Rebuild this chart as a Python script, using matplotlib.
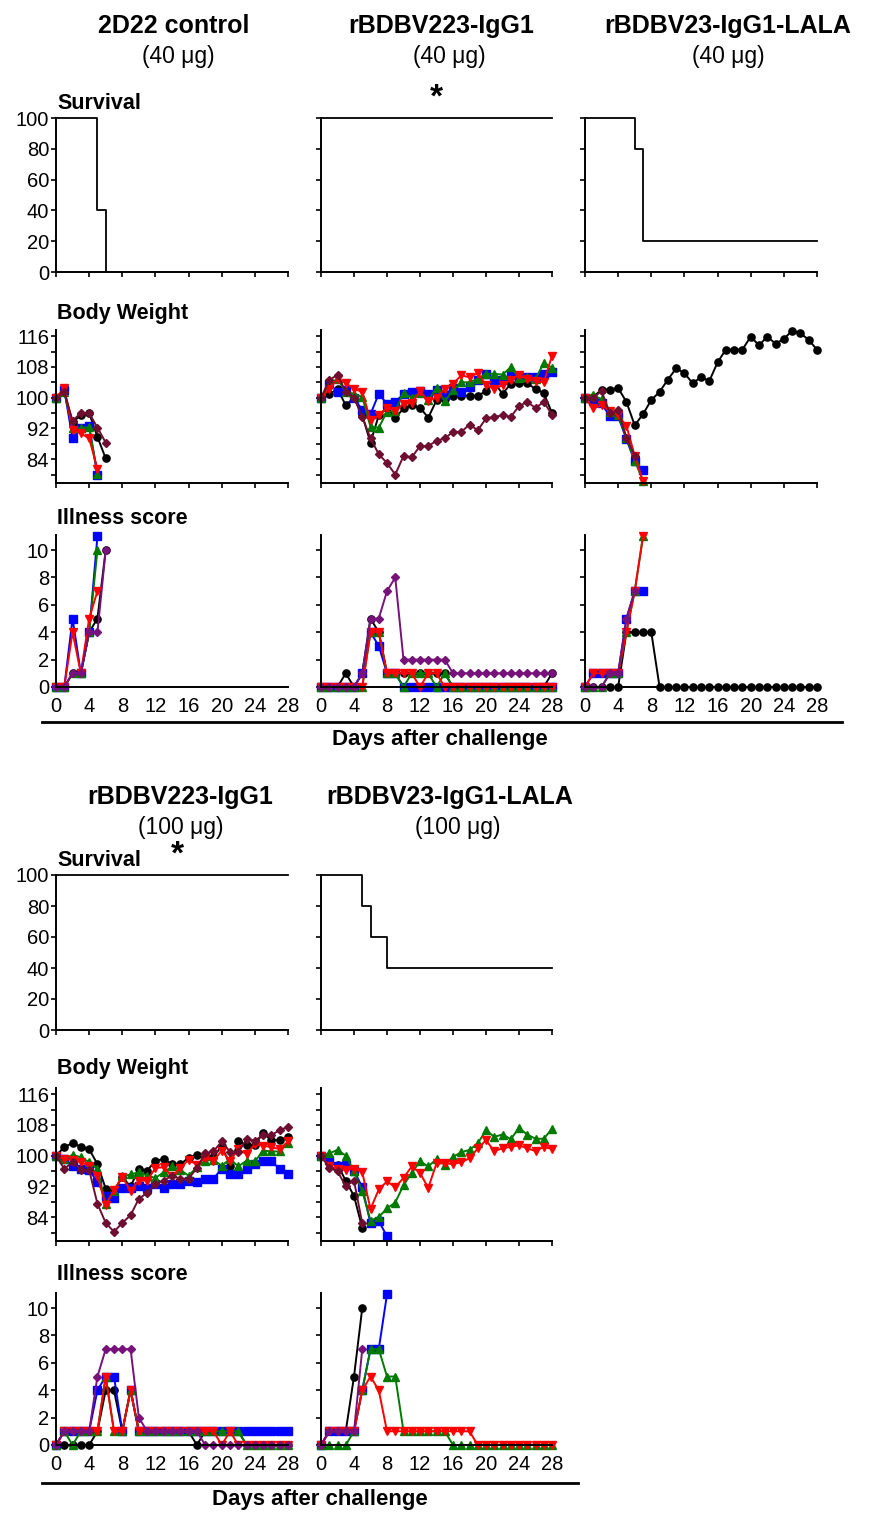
import matplotlib
matplotlib.use("Agg")
import matplotlib.pyplot as plt
from matplotlib.lines import Line2D
from matplotlib.ticker import MultipleLocator
import numpy as np

plt.rcParams['font.family'] = ['Liberation Sans', 'DejaVu Sans']

# ---------------- data ----------------
days = np.arange(29)

# survival: step times and percent
surv_ctrl40_t = [0, 5, 6]
surv_ctrl40_v = [100, 40, 0]
surv_223_40_t = [0, 28]
surv_223_40_v = [100, 100]
surv_lala40_t = [0, 6, 7, 28]
surv_lala40_v = [100, 80, 20, 20]
surv_223_100_t = [0, 28]
surv_223_100_v = [100, 100]
surv_lala100_t = [0, 5, 6, 8, 28]
surv_lala100_v = [100, 80, 60, 40, 40]

# body weight (% of day 0), one list per mouse
bw_ctrl40 = {
    "m1": [100, 101.5, 93.5, 95.5, 96, 89.8, 84.2],
    "m2": [100, 102, 89.4, 92, 92.6, 79.8],
    "m3": [100, 101.5, 92, 92, 92.4, 80.2],
    "m4": [100, 102.5, 91.7, 90.7, 89.4, 81.5],
    "m5": [100, 101.5, 94, 96, 96, 92.2, 88.3],
}
bw_223_40 = {
    "m1": [100, 100.9, 102.3, 98, 100, 95.4, 88.3, 95.4, 97.4, 94.7, 97.2, 98, 97.4, 94.8, 99.3,
           99.7, 100.5, 100.5, 100.5, 100.5, 101.7, 104, 101, 103.6, 103.8, 103.8, 102.2, 101.2, 96],
    "m2": [100, 103.6, 101.5, 101.9, 100, 96.7, 95.7, 101, 98.4, 98.9, 100.9, 101.5, 101.7, 100.9, 101.9,
           100.6, 102.6, 101.5, 102.9, 104.5, 106.2, 104.7, 104.5, 105.8, 105.3, 105.3, 105.5, 106.2, 106.6],
    "m3": [100, 103.6, 104.9, 101.5, 101, 100.2, 92.4, 92.2, 96.3, 96.6, 101.2, 100, 101.2, 99.3, 102.6,
           99.1, 101.9, 104, 104, 104.9, 106.2, 106.2, 106, 107.9, 105.2, 105.3, 104.9, 109, 107.8],
    "m4": [100, 102.3, 104.9, 103.8, 102.3, 101.5, 94.1, 95.4, 97.4, 96.6, 98.4, 98.6, 101.7, 99.1, 100,
           102.3, 103.6, 105.8, 105.3, 106.4, 103.2, 102.3, 103.2, 104.7, 105.8, 104.9, 104.3, 104, 110.9],
    "m5": [100, 104.5, 106, 101.5, 100, 95, 89.4, 85.3, 83, 80, 84.8, 84.5, 87.4, 87.4, 88.8,
           89.4, 91.1, 91.1, 93, 91.5, 94.6, 95, 95.4, 95, 97.8, 98.9, 97.3, 98.9, 95.6],
}
bw_lala40 = {
    "m1": [100, 100.2, 102.1, 102.1, 102.5, 98.9, 92.8, 95.7, 99.4, 101.5, 104.7, 107.6, 106.4, 103.7, 105.4,
           104.3, 109.2, 112.5, 112.5, 112.5, 115.9, 113.6, 115.9, 114, 115.3, 117.4, 116.8, 115, 112.5],
    "m2": [100, 99.1, 98.5, 95.1, 95.1, 89.2, 83.4, 81.2],
    "m3": [100, 100.6, 99.6, 96.3, 95.4, 89.6, 83.6, 78.4],
    "m4": [100, 97.2, 98, 96.6, 95.4, 92.7, 84.9, 78.2],
    "m5": [100, 100, 101.7, 95.9, 96.8, 89.6, 84.9],
}
bw_223_100 = {
    "m1": [100, 102.2, 103.3, 102.3, 101.7, 97.8, 91.4, 90.9, 94.4, 92, 96.6, 96.1, 98.7, 99.1, 97.8,
           97.8, 99.4, 100.3, 100, 99.6, 102.6, 97.4, 103.7, 102.8, 102.8, 105.9, 104, 104, 104.9],
    "m2": [100, 99.1, 97.4, 96.6, 96.3, 93.1, 89.4, 89.1, 91.6, 91.6, 92, 91.6, 92.5, 91.6, 92.7,
           92.5, 93.5, 93.1, 94, 94, 96.6, 95.1, 95.1, 96.6, 97.8, 98.5, 98.5, 96.6, 95.1],
    "m3": [100, 99.1, 100.2, 99.6, 98.3, 96.6, 87.3, 90.9, 94.6, 95.1, 95.7, 94.8, 94.2, 95.7, 97.2,
           96.3, 94.8, 97, 98.7, 98.9, 97.4, 99.1, 97.2, 98.7, 98.5, 101.3, 101.1, 101.1, 103.4],
    "m4": [100, 99.1, 98.9, 98.3, 97.4, 94.8, 87.1, 91.1, 94.4, 90.9, 93.5, 93.5, 96.8, 97, 94.6,
           96.8, 98.9, 97.7, 99.4, 98.7, 101.3, 98.7, 101.7, 100.4, 103, 102.6, 102.2, 101.7, 103.7],
    "m5": [100, 96.6, 98.3, 96.3, 96.3, 87.5, 82.5, 80.2, 82.5, 84.5, 88.8, 90.3, 92.7, 93.5, 94.8,
           94, 94, 96.8, 100.6, 101.1, 103.7, 101, 101, 104.3, 103.9, 105.4, 105.4, 106.6, 107.5],
}
bw_lala100 = {
    "m1": [100, 98, 97.6, 93.5, 89.5, 81.2],
    "m2": [100, 98.9, 97.2, 97.6, 96.1, 91.8, 82.4, 83, 79],
    "m3": [100, 100.6, 101.5, 100, 95.9, 90.8, 83.1, 84, 86.3, 87.8, 92.3, 95.5, 98.5, 97.2, 99.1,
           97.6, 99.7, 100.9, 101.5, 103.2, 106.6, 104.9, 105.5, 104.3, 107.2, 105.5, 104.4, 104.4, 107],
    "m4": [100, 97.2, 96.6, 96.3, 96.6, 95.7, 86.1, 91.2, 93.3, 91.8, 94.2, 97.2, 95.5, 91.6, 98,
           98, 97.8, 98.3, 99.3, 101.9, 104, 101.2, 101.9, 102.3, 102.7, 101.9, 101.2, 102.3, 101.7],
    "m5": [100, 96.9, 95.9, 92.1, 93.5, 82.4],
}

# illness score
ill_ctrl40 = {
    "m1": [0, 0, 1, 1, 4, 5, 10],
    "m2": [0, 0, 5, 1, 4, 11],
    "m3": [0, 0, 1, 1, 4, 10],
    "m4": [0, 0, 4, 1, 5, 7],
    "m5": [0, 0, 1, 1, 4, 4, 10],
}
ill_223_40 = {
    "m1": [0, 0, 0, 1, 0, 1, 5, 4, 1, 1, 1, 1, 1, 1, 1, 1, 0, 0, 0, 0, 0, 0, 0, 0, 0, 0, 0, 0, 1],
    "m2": [0, 0, 0, 0, 0, 1, 4, 3, 1, 1, 0, 0, 0, 0, 0, 0, 0, 0, 0, 0, 0, 0, 0, 0, 0, 0, 0, 0, 0],
    "m3": [0, 0, 0, 0, 0, 0, 4, 4, 1, 1, 0, 1, 1, 1, 0, 1, 0, 0, 0, 0, 0, 0, 0, 0, 0, 0, 0, 0, 0],
    "m4": [0, 0, 0, 0, 0, 0, 4, 4, 1, 1, 1, 1, 0, 1, 1, 0, 0, 0, 0, 0, 0, 0, 0, 0, 0, 0, 0, 0, 0],
    "m5": [0, 0, 0, 0, 0, 1, 5, 5, 7, 8, 2, 2, 2, 2, 2, 2, 1, 1, 1, 1, 1, 1, 1, 1, 1, 1, 1, 1, 1],
}
ill_lala40 = {
    "m1": [0, 0, 0, 0, 0, 4, 4, 4, 4, 0, 0, 0, 0, 0, 0, 0, 0, 0, 0, 0, 0, 0, 0, 0, 0, 0, 0, 0, 0],
    "m2": [0, 1, 1, 1, 1, 5, 7, 7],
    "m3": [0, 0, 0, 1, 1, 4, 7, 11],
    "m4": [0, 1, 1, 1, 1, 4, 7, 11],
    "m5": [0, 0, 0, 1, 1, 5, 7],
}
ill_223_100 = {
    "m1": [0, 0, 0, 0, 0, 1, 4, 4, 1, 4, 1, 1, 1, 1, 1, 1, 1, 0, 1, 1, 1, 1, 1, 0, 0, 0, 0, 0, 0],
    "m2": [0, 1, 1, 1, 1, 4, 5, 5, 1, 4, 1, 1, 1, 1, 1, 1, 1, 1, 1, 1, 1, 1, 1, 1, 1, 1, 1, 1, 1],
    "m3": [0, 1, 0, 1, 1, 1, 5, 1, 1, 4, 1, 1, 1, 1, 1, 1, 1, 1, 1, 1, 1, 1, 1, 0, 0, 0, 0, 0, 0],
    "m4": [0, 1, 1, 1, 1, 1, 5, 1, 1, 4, 1, 1, 1, 1, 1, 1, 1, 1, 1, 1, 0, 1, 0, 0, 0, 0, 0, 0, 0],
    "m5": [0, 1, 1, 1, 1, 5, 7, 7, 7, 7, 2, 1, 1, 1, 1, 1, 1, 1, 0, 0, 0, 0, 0, 0, 0, 0, 0, 0, 0],
}
ill_lala100 = {
    "m1": [0, 1, 1, 1, 5, 10],
    "m2": [0, 1, 1, 1, 1, 4, 7, 7, 11],
    "m3": [0, 0, 0, 0, 1, 4, 7, 7, 5, 5, 1, 1, 1, 1, 1, 1, 0, 0, 0, 0, 0, 0, 0, 0, 0, 0, 0, 0, 0],
    "m4": [0, 1, 1, 1, 1, 4, 5, 4, 1, 1, 1, 1, 1, 1, 1, 1, 1, 1, 1, 0, 0, 0, 0, 0, 0, 0, 0, 0, 0],
    "m5": [0, 1, 1, 1, 1, 7],
}

# mouse styles: colour, marker, size
styles = {
    "m1": ("black", "o", 5.2),
    "m2": ("#0000ff", "s", 5.2),
    "m3": ("#007a00", "^", 5.2),
    "m4": ("#ff0000", "v", 5.7),
    "m5": ("#6e0f30", "D", 3.6),
}
ill_purple = "#76127a"

W, H = 872, 1513
fig = plt.figure(figsize=(W / 100, H / 100), dpi=100)


def add_ax(x0, x1, y0, y1):
    return fig.add_axes([x0 / W, 1 - y1 / H, (x1 - x0) / W, (y1 - y0) / H])


def ftext(x, y, s, **kw):
    fig.text(x / W, 1 - y / H, s, **kw)


def style_ax(ax):
    for s in ("top", "right"):
        ax.spines[s].set_visible(False)
    for s in ("left", "bottom"):
        ax.spines[s].set_linewidth(1.4)
    ax.set_xlim(0, 28)
    ax.xaxis.set_major_locator(MultipleLocator(4))
    ax.tick_params(direction="out", length=3.5, width=1.2, labelsize=14.5, pad=1.5)
    ax.tick_params(axis="y", which="minor", direction="out", length=3.5, width=1.2)


def survival(ax, t, v, labels):
    style_ax(ax)
    ax.step(t, v, where="post", color="black", lw=1.3, clip_on=False)
    ax.set_ylim(0, 100)
    ax.set_yticks(range(0, 101, 20))
    ax.tick_params(axis="x", labelbottom=False)
    if not labels:
        ax.tick_params(axis="y", labelleft=False)


def weight(ax, data, labels):
    style_ax(ax)
    for k, vals in data.items():
        c, m, ms = styles[k]
        ax.plot(days[:len(vals)], vals, color=c, marker=m, ms=ms, lw=1.4, clip_on=False)
    ax.set_ylim(77.8, 117.6)
    ax.set_yticks([84, 92, 100, 108, 116])
    ax.yaxis.set_minor_locator(MultipleLocator(4))
    ax.tick_params(axis="x", labelbottom=False)
    if not labels:
        ax.tick_params(axis="y", labelleft=False)


def illness(ax, data, labels):
    style_ax(ax)
    for k, vals in data.items():
        c, m, ms = styles[k]
        if k == "m5":
            c = ill_purple
        ax.plot(days[:len(vals)], vals, color=c, marker=m, ms=ms, lw=1.4, clip_on=False)
    ax.set_ylim(0, 11.1)
    ax.set_yticks(range(0, 11, 2))
    ax.tick_params(axis="x", length=0, pad=7)
    if not labels:
        ax.tick_params(axis="y", labelleft=False)


cols = [(56, 288), (321, 552), (585, 817)]
top_rows = [(118, 272), (330, 483), (535, 687)]
bot_rows = [(875, 1030), (1088, 1241), (1293, 1445)]

top_surv = [(surv_ctrl40_t, surv_ctrl40_v), (surv_223_40_t, surv_223_40_v), (surv_lala40_t, surv_lala40_v)]
top_bw = [bw_ctrl40, bw_223_40, bw_lala40]
top_ill = [ill_ctrl40, ill_223_40, ill_lala40]
for i, (x0, x1) in enumerate(cols):
    a = add_ax(x0, x1, *top_rows[0])
    survival(a, *top_surv[i], i == 0)
    if i == 1:
        a.text(14, 103, "*", ha="center", va="bottom", fontsize=24, fontweight="bold", clip_on=False)
    weight(add_ax(x0, x1, *top_rows[1]), top_bw[i], i == 0)
    illness(add_ax(x0, x1, *top_rows[2]), top_ill[i], i == 0)

bot_surv = [(surv_223_100_t, surv_223_100_v), (surv_lala100_t, surv_lala100_v)]
bot_bw = [bw_223_100, bw_lala100]
bot_ill = [ill_223_100, ill_lala100]
for i, (x0, x1) in enumerate(cols[:2]):
    a = add_ax(x0, x1, *bot_rows[0])
    survival(a, *bot_surv[i], i == 0)
    if i == 0:
        a.text(14.6, 103, "*", ha="center", va="bottom", fontsize=24, fontweight="bold", clip_on=False)
    weight(add_ax(x0, x1, *bot_rows[1]), bot_bw[i], i == 0)
    illness(add_ax(x0, x1, *bot_rows[2]), bot_ill[i], i == 0)

# column titles
title_kw = dict(ha="center", va="baseline", fontsize=18, fontweight="bold")
dose_kw = dict(ha="center", va="baseline", fontsize=16.5)
ftext(174, 33, "2D22 control", **title_kw)
ftext(178, 63, "(40 \u03bcg)", **dose_kw)
ftext(441, 33, "rBDBV223-IgG1", **title_kw)
ftext(449, 63, "(40 \u03bcg)", **dose_kw)
ftext(728, 33, "rBDBV23-IgG1-LALA", **title_kw)
ftext(728, 63, "(40 \u03bcg)", **dose_kw)
ftext(180, 804, "rBDBV223-IgG1", **title_kw)
ftext(181, 834, "(100 \u03bcg)", **dose_kw)
ftext(450, 804, "rBDBV23-IgG1-LALA", **title_kw)
ftext(458, 834, "(100 \u03bcg)", **dose_kw)

# row labels
row_kw = dict(ha="left", va="baseline", fontsize=15.5, fontweight="bold")
for y, s in [(109, "Survival"), (319, "Body Weight"), (524, "Illness score"),
             (866, "Survival"), (1074, "Body Weight"), (1280, "Illness score")]:
    ftext(57, y, s, **row_kw)

# separators and x labels
fig.add_artist(Line2D([42 / W, 842 / W], [1 - 722 / H] * 2, color="black", lw=2))
fig.add_artist(Line2D([42 / W, 578 / W], [1 - 1483 / H] * 2, color="black", lw=2))
ftext(440, 740, "Days after challenge", ha="center", va="center", fontsize=16, fontweight="bold")
ftext(320, 1500, "Days after challenge", ha="center", va="center", fontsize=16, fontweight="bold")

fig.savefig("out.png", dpi=100)
